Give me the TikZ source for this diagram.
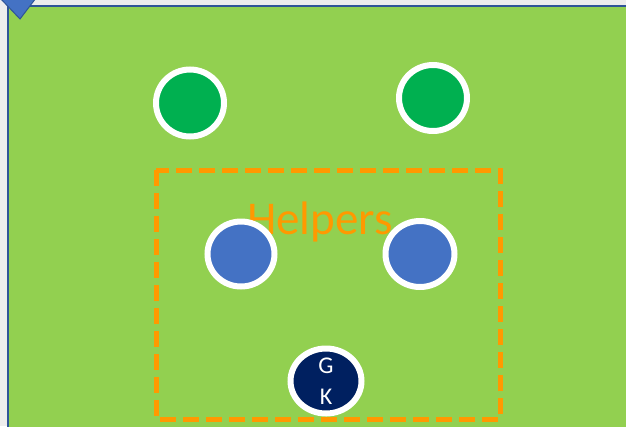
\documentclass[tikz,border=0pt]{standalone}
\usetikzlibrary{shapes.geometric}
\usepackage{fontspec}
\setmainfont{Carlito}
\definecolor{bggray}{HTML}{EDEDED}
\definecolor{field}{HTML}{92D050}
\definecolor{fieldline}{HTML}{2F5597}
\definecolor{tri}{HTML}{4472C4}
\definecolor{pgreen}{HTML}{00B050}
\definecolor{pblue}{HTML}{4472C4}
\definecolor{gk}{HTML}{002060}
\definecolor{helper}{HTML}{FF9900}
\begin{document}
\begin{tikzpicture}[x=1pt,y=-1pt,
  player/.style={ellipse,draw=white,line width=6pt,minimum width=68pt,minimum height=67pt,inner sep=0pt},
  zone/.style={draw=helper,line width=5pt,dash pattern=on 16pt off 7pt}]
\useasboundingbox (0,0) rectangle (626,426);
\fill[bggray] (0,0) rectangle (626,426);
\draw[fieldline,fill=field,line width=2pt] (8,6) rectangle (640,440);
\draw[fieldline,fill=tri,line width=1pt] (0,-2) -- (36,-2) -- (20,19) -- cycle;
\draw[zone] (156,170) rectangle (500,419);
\node[text=helper,font=\fontsize{47}{47}\selectfont,anchor=base] (helpers) at (320,234) {Helpers};
\node[player,fill=pgreen] (g1) at (190,103) {};
\node[player,fill=pgreen,minimum height=66pt] (g2) at (433,98) {};
\node[player,fill=pblue,minimum width=67pt,minimum height=65pt] (b1) at (241,254) {};
\node[player,fill=pblue,minimum width=69pt,minimum height=66pt] (b2) at (420,254) {};
\node[player,fill=gk,minimum width=71pt,minimum height=65pt] (gk) at (326,381) {};
\node[text=white,font=\fontsize{24}{31}\selectfont,align=center] (gktext) at (gk.center) {G\\K};
\end{tikzpicture}
\end{document}
